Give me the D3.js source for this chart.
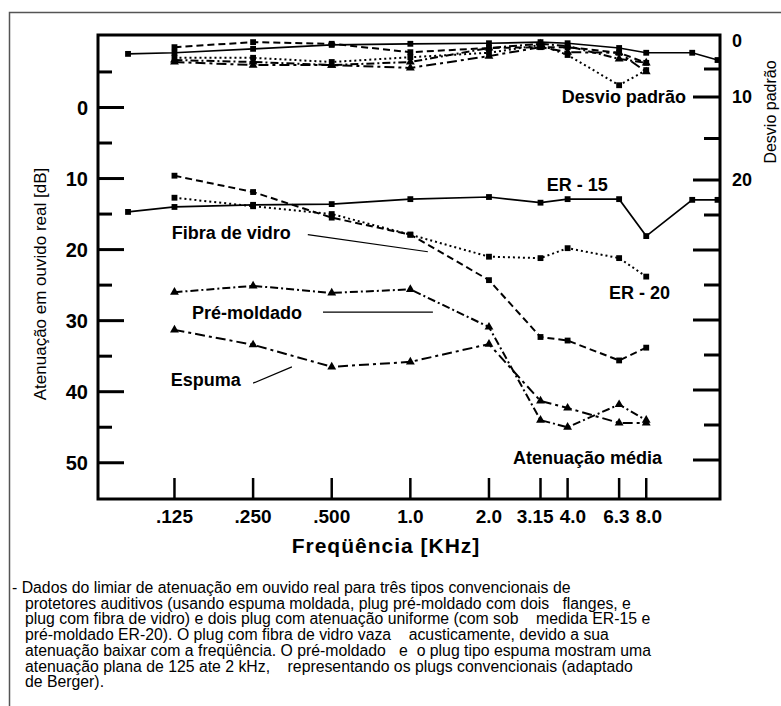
<!DOCTYPE html>
<html><head><meta charset="utf-8">
<script src="https://cdn.jsdelivr.net/npm/d3@7"></script>
<style>
html,body{margin:0;padding:0;background:#fff;}
svg{display:block;}
text{font-family:"Liberation Sans",Arial,Helvetica,sans-serif;fill:#000;}
</style></head><body>
<svg id="c" width="781" height="706"></svg>
<script>
// ---- tick labels / categories ----
const freqTicks  = [0.125, 0.25, 0.5, 1, 2, 3.15, 4, 6.3, 8];
const freqLabels = [".125", ".250", ".500", "1.0", "2.0", "3.15", "4.0", "6.3", "8.0"];
const leftTicks  = [0, 10, 20, 30, 40, 50];
const leftMinor  = [-5, 5, 15, 25, 35, 45];
const rightLabels = [0, 10, 20];
const rightTicks = [5, 10, 15, 20, 25, 30, 35, 40, 45, 50, 55, 60];

// ---- frequencies (kHz) ----
const er15Freq = [0.083, 0.125, 0.25, 0.5, 1, 2, 3.15, 4, 6.3, 8, 12, 15];
const stdFreq  = [0.125, 0.25, 0.5, 1, 2, 3.15, 4, 6.3, 8];

// ---- mean attenuation (dB) ----
const er15Atten   = [14.7, 14.0, 13.7, 13.6, 12.9, 12.6, 13.4, 12.9, 12.9, 18.1, 13.0, 13.0];
const er20Atten   = [12.7, 13.9, 15.0, 17.9, 21.0, 21.2, 19.8, 21.2, 23.8];
const fibraAtten  = [9.6, 11.9, 15.5, 17.9, 24.3, 32.3, 32.8, 35.6, 33.8];
const premAtten   = [26.0, 25.1, 26.1, 25.6, 30.9, 44.0, 45.0, 41.8, 44.0];
const espumaAtten = [31.3, 33.4, 36.5, 35.8, 33.3, 41.3, 42.3, 44.4, 44.4];

// ---- standard deviation (dB, right axis) ----
const er15Dev   = [2.3, 2.1, 1.4, 0.7, 0.5, 0.4, 0.2, 0.4, 1.25, 2.1, 2.1, 3.4];
const er20Dev   = [3.0, 3.0, 3.75, 2.9, 2.1, 0.7, 2.5, 7.9, 5.2];
const fibraDev  = [1.1, 0.2, 0.5, 2.0, 1.25, 1.1, 1.1, 2.1, 3.9];
const premDev   = [3.4, 3.75, 4.3, 3.75, 1.25, 0.5, 0.9, 3.2, 3.9];
const espumaDev = [3.75, 4.3, 4.3, 4.8, 2.7, 1.1, 2.0, 2.1, 5.5];

const caption = [
  "- Dados do limiar de atenuação em ouvido real para três tipos convencionais de",
  "protetores auditivos (usando espuma moldada, plug pré-moldado com dois   flanges, e",
  "plug com fibra de vidro) e dois plug com atenuação uniforme (com sob    medida ER-15 e",
  "pré-moldado ER-20). O plug com fibra de vidro vaza    acusticamente, devido a sua",
  "atenuação baixar com a freqüência. O pré-moldado   e  o plug tipo espuma mostram uma",
  "atenuação plana de 125 ate 2 kHz,    representando os plugs convencionais (adaptado",
  "de Berger)."
];

const svg = d3.select("#c");
const W = 781, H = 706;
const plot = {l: 98, r: 720, t: 35, b: 499};

const x  = d3.scaleLog().domain([0.0637, 15.33]).range([plot.l, plot.r]);
const y  = d3.scaleLinear().domain([-10.2, 55.1]).range([plot.t, plot.b]);
const yR = d3.scaleLinear().domain([0, 10, 20, 60]).range([41, 97, 180, 460]);

// outer frame
svg.append("path")
  .attr("d", `M9.5,${H} L9.5,12.5 L${W},12.5`)
  .attr("fill", "none").attr("stroke", "#555").attr("stroke-width", 1.5);

const g = svg.append("g");
svg.append("defs").append("clipPath").attr("id", "clip")
  .append("rect").attr("x", plot.l).attr("y", plot.t)
  .attr("width", plot.r - plot.l).attr("height", plot.b - plot.t);

// series
const series = [
  {f: er15Freq, a: er15Atten, d: er15Dev, dash: null, w: 1.7, sym: d3.symbolSquare},
  {f: stdFreq, a: er20Atten, d: er20Dev, dash: "2,3", w: 2, sym: d3.symbolSquare},
  {f: stdFreq, a: fibraAtten, d: fibraDev, dash: "7,4", w: 2, sym: d3.symbolSquare},
  {f: stdFreq, a: premAtten, d: premDev, dash: "8,3,2,3", w: 2, sym: d3.symbolTriangle},
  {f: stdFreq, a: espumaAtten, d: espumaDev, dash: "10,4,3,4", w: 2, sym: d3.symbolTriangle}
];

const lines = g.append("g").attr("clip-path", "url(#clip)");
series.forEach(s => {
  const ptsA = s.f.map((f, i) => [x(f), y(s.a[i])]);
  const ptsD = s.f.map((f, i) => [x(f), yR(s.d[i])]);
  [ptsA, ptsD].forEach(pts => {
    lines.append("path").attr("d", d3.line()(pts))
      .attr("fill", "none").attr("stroke", "#000")
      .attr("stroke-width", s.w)
      .attr("stroke-dasharray", s.dash);
    lines.selectAll(null).data(pts).enter().append("path")
      .attr("d", d3.symbol().type(s.sym).size(34))
      .attr("transform", p => `translate(${p[0]},${p[1]})`)
      .attr("fill", "#000");
  });
});

// frame
g.append("rect").attr("x", plot.l).attr("y", plot.t)
  .attr("width", plot.r - plot.l).attr("height", plot.b - plot.t)
  .attr("fill", "none").attr("stroke", "#000").attr("stroke-width", 3);

// left ticks
g.selectAll(null).data(leftTicks).enter().append("line")
  .attr("x1", plot.l).attr("x2", plot.l + 26)
  .attr("y1", d => y(d)).attr("y2", d => y(d))
  .attr("stroke", "#000").attr("stroke-width", 3);
g.selectAll(null).data(leftMinor).enter().append("line")
  .attr("x1", plot.l).attr("x2", plot.l + 14)
  .attr("y1", d => y(d)).attr("y2", d => y(d))
  .attr("stroke", "#000").attr("stroke-width", 3);
g.selectAll(null).data(leftTicks).enter().append("text")
  .attr("x", 88).attr("y", d => y(d)).attr("dy", "0.36em")
  .attr("text-anchor", "end").attr("font-size", 20).attr("font-weight", "bold")
  .text(d => d);

// right ticks
g.selectAll(null).data(rightTicks).enter().append("line")
  .attr("x1", plot.r).attr("x2", d => d % 10 === 0 ? plot.r - 27 : plot.r - 16)
  .attr("y1", d => yR(d)).attr("y2", d => yR(d))
  .attr("stroke", "#000").attr("stroke-width", 3);
g.selectAll(null).data(rightLabels).enter().append("text")
  .attr("x", 732).attr("y", d => yR(d)).attr("dy", "0.36em")
  .attr("text-anchor", "start").attr("font-size", 18).attr("font-weight", "bold")
  .text(d => d);

// bottom ticks
g.selectAll(null).data(freqTicks).enter().append("line")
  .attr("x1", d => x(d)).attr("x2", d => x(d))
  .attr("y1", plot.b).attr("y2", plot.b - 21)
  .attr("stroke", "#000").attr("stroke-width", 2.5);
const xl = g.selectAll(null).data(freqTicks).enter().append("text")
  .attr("x", d => x(d)).attr("y", 523)
  .attr("text-anchor", "middle").attr("font-size", 19).attr("font-weight", "bold")
  .text((d, i) => freqLabels[i]);
// spread crowded labels apart so they don't overlap
(function dodge() {
  const nodes = xl.nodes();
  const pos = freqTicks.map(d => x(d));
  const w = nodes.map(n => n.getComputedTextLength());
  const gap = 6;
  for (let it = 0; it < 60; it++) {
    for (let i = 0; i < pos.length - 1; i++) {
      const ov = (pos[i] + w[i] / 2 + gap) - (pos[i + 1] - w[i + 1] / 2);
      if (ov > 0) { pos[i] -= ov / 2; pos[i + 1] += ov / 2; }
    }
  }
  nodes.forEach((n, i) => n.setAttribute("x", pos[i]));
})();

// axis titles
svg.append("text").attr("x", 386).attr("y", 553)
  .attr("text-anchor", "middle").attr("font-size", 21).attr("font-weight", "bold")
  .attr("letter-spacing", 1)
  .text("Freqüência [KHz]");
svg.append("text").attr("transform", "translate(46,284) rotate(-90)")
  .attr("text-anchor", "middle").attr("font-size", 17)
  .text("Atenuação em ouvido real [dB]");
svg.append("text").attr("transform", "translate(776,112) rotate(-90)")
  .attr("text-anchor", "middle").attr("font-size", 16)
  .text("Desvio padrão");

// annotations (anchored in data coordinates)
const notes = [
  {t: "Desvio padrão", f: 11.35, v: -1.48, anchor: "end"},
  {t: "ER - 15", f: 3.33, v: 10.9, anchor: "start"},
  {t: "Fibra de vidro", f: 0.122, v: 17.66, anchor: "start"},
  {t: "Pré-moldado", f: 0.146, v: 28.8, anchor: "start"},
  {t: "Espuma", f: 0.121, v: 38.3, anchor: "start"},
  {t: "ER - 20", f: 5.76, v: 26.1, anchor: "start"},
  {t: "Atenuação média", f: 2.47, v: 49.3, anchor: "start"}
];
g.selectAll(null).data(notes).enter().append("text")
  .attr("x", d => x(d.f)).attr("y", d => y(d.v)).attr("dy", "0.36em")
  .attr("text-anchor", d => d.anchor)
  .attr("font-size", 18).attr("font-weight", "bold")
  .text(d => d.t);

const leaders = [
  [[0.405, 17.9], [1.167, 20.3]],
  [[0.463, 28.8], [1.22, 28.8]],
  [[0.25, 38.8], [0.352, 36.5]]
];
g.selectAll(null).data(leaders).enter().append("line")
  .attr("x1", d => x(d[0][0])).attr("y1", d => y(d[0][1]))
  .attr("x2", d => x(d[1][0])).attr("y2", d => y(d[1][1]))
  .attr("stroke", "#000").attr("stroke-width", 1.2);

// caption (first line hangs, the rest are indented)
const capG = svg.append("g");
caption.forEach((line, i) => {
  capG.append("text").attr("font-size", 15.8)
    .attr("x", i === 0 ? 12 : 25).attr("y", 593 + i * 15.7)
    .style("white-space", "pre").attr("xml:space", "preserve")
    .text(line);
});
</script>
</body></html>
